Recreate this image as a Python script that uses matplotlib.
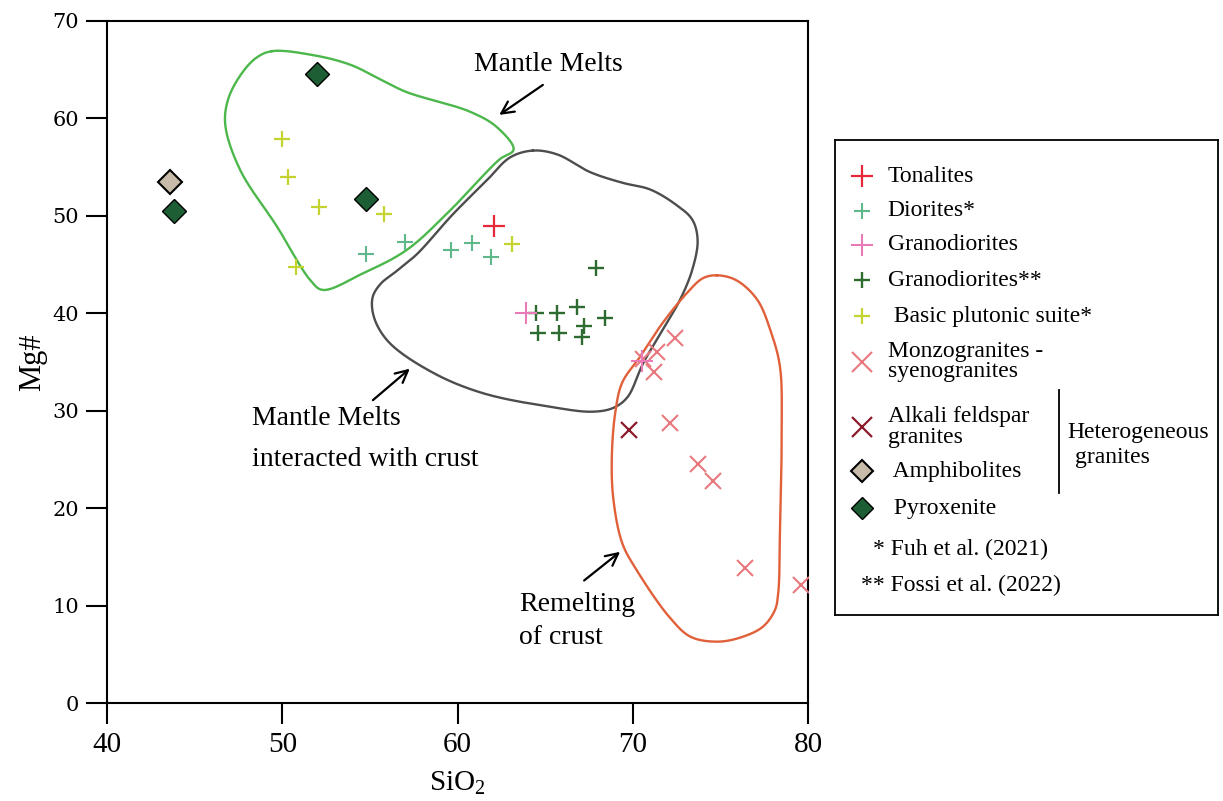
import numpy as np
import matplotlib
matplotlib.use('Agg')
import matplotlib.pyplot as plt

plt.rcParams['font.family'] = ['Liberation Serif', 'DejaVu Serif']
plt.rcParams['mathtext.fontset'] = 'custom'
plt.rcParams['mathtext.rm'] = 'Liberation Serif'
plt.rcParams['mathtext.it'] = 'Liberation Serif:italic'

# sample data (SiO2 wt%, Mg#)
tonalite_sio2 = [62.1]
tonalite_mg = [49.0]
diorite_sio2 = [54.8, 57.0, 59.6, 60.8, 61.9]
diorite_mg = [46.1, 47.3, 46.5, 47.2, 45.8]
grano_sio2 = [63.9, 70.5]
grano_mg = [40.0, 35.1]
grano2_sio2 = [67.9, 64.5, 65.7, 66.8, 68.4, 67.2, 64.6, 65.8, 67.1]
grano2_mg = [44.6, 40.0, 40.0, 40.6, 39.5, 38.7, 38.0, 38.0, 37.6]
basic_sio2 = [50.0, 50.3, 52.1, 55.8, 50.8, 63.1]
basic_mg = [57.9, 54.0, 50.9, 50.2, 44.8, 47.1]
monzo_sio2 = [72.4, 71.4, 71.2, 70.6, 72.1, 73.7, 74.6, 76.4, 79.6]
monzo_mg = [37.5, 36.0, 34.0, 35.3, 28.7, 24.5, 22.8, 13.9, 12.1]
alkali_sio2 = [69.8]
alkali_mg = [28.0]
amphib_sio2 = [43.6]
amphib_mg = [53.5]
pyrox_sio2 = [52.0, 54.8, 43.8]
pyrox_mg = [64.6, 51.7, 50.5]

# field outlines (SiO2, Mg#)
mantle_x = [49.4, 51.75, 53.9, 55.6, 57.1, 60.7, 62.25, 63.2, 62.4, 59.6, 57.1,
            54.6, 52.3, 51.6, 49.7, 47.6, 46.75, 46.9, 47.6, 48.5]
mantle_y = [66.9, 66.5, 65.5, 64.0, 62.7, 60.7, 59.1, 56.8, 55.8, 50.6, 46.5,
            44.1, 42.4, 43.4, 48.9, 54.7, 59.3, 61.9, 64.4, 66.2]
inter_x = [64.3, 65.7, 67.55, 69.4, 71.0, 72.5, 73.4, 73.7, 73.4, 72.7, 71.7,
           70.6, 69.7, 68.9, 67.7, 65.3, 61.45, 58.6, 56.1, 55.25, 55.15, 55.6,
           56.5, 57.7, 59.7, 61.7, 63.0]
inter_y = [56.7, 56.3, 54.5, 53.4, 52.7, 51.1, 49.6, 47.5, 44.5, 41.4, 38.3,
           34.9, 31.4, 30.3, 29.9, 30.4, 31.8, 33.9, 37.0, 39.5, 41.6, 43.0,
           44.3, 46.1, 50.1, 53.7, 56.0]
crust_x = [74.8, 75.9, 77.1, 77.9, 78.4, 78.5, 78.4, 78.3, 78.1, 77.4, 76.1, 74.8,
           73.3, 72.1, 70.2, 69.4, 68.9, 68.8, 69.0, 69.4, 70.4, 71.7, 73.1, 74.0]
crust_y = [43.9, 43.4, 41.4, 38.0, 34.5, 28.3, 18.1, 11.3, 9.5, 7.8, 6.7, 6.3,
           6.8, 8.8, 13.7, 16.4, 20.8, 24.9, 29.8, 32.9, 35.5, 39.0, 42.1, 43.6]


def smooth_closed(xs, ys, n=24, alpha=0.5):
    # closed centripetal Catmull-Rom curve, distances taken in screen-like units
    scale = np.array([17.5, 9.74])
    p = np.column_stack([xs, ys]) * scale
    k = len(p)
    parts = []
    for i in range(k):
        P0, P1, P2, P3 = p[i - 1], p[i], p[(i + 1) % k], p[(i + 2) % k]
        t0 = 0.0
        t1 = t0 + np.linalg.norm(P1 - P0) ** alpha
        t2 = t1 + np.linalg.norm(P2 - P1) ** alpha
        t3 = t2 + np.linalg.norm(P3 - P2) ** alpha
        t = np.linspace(t1, t2, n, endpoint=False)[:, None]
        A1 = (t1 - t) / (t1 - t0) * P0 + (t - t0) / (t1 - t0) * P1
        A2 = (t2 - t) / (t2 - t1) * P1 + (t - t1) / (t2 - t1) * P2
        A3 = (t3 - t) / (t3 - t2) * P2 + (t - t2) / (t3 - t2) * P3
        B1 = (t2 - t) / (t2 - t0) * A1 + (t - t0) / (t2 - t0) * A2
        B2 = (t3 - t) / (t3 - t1) * A2 + (t - t1) / (t3 - t1) * A3
        parts.append((t2 - t) / (t2 - t1) * B1 + (t - t1) / (t2 - t1) * B2)
    parts.append(p[:1])
    out = np.vstack(parts) / scale
    return out[:, 0], out[:, 1]


fig = plt.figure(figsize=(12.23, 8.01), dpi=100)
ax = fig.add_axes([0.0875, 0.1223, 0.5732, 0.8515])

for xs, ys, c in [(mantle_x, mantle_y, '#4cb84c'),
                  (inter_x, inter_y, '#4d4d4d'),
                  (crust_x, crust_y, '#e0603a')]:
    sx, sy = smooth_closed(xs, ys)
    ax.plot(sx, sy, color=c, lw=1.7, zorder=2)

styles = {
    'ton': dict(marker='+', color='#e8283a', ms=16.5, mew=1.6, ls='none'),
    'dio': dict(marker='+', color='#5fb88a', ms=12, mew=1.5, ls='none'),
    'gra': dict(marker='+', color='#e87ab8', ms=16.5, mew=1.5, ls='none'),
    'gra2': dict(marker='+', color='#2e6b30', ms=11.5, mew=1.7, ls='none'),
    'bas': dict(marker='+', color='#c5d331', ms=12, mew=1.6, ls='none'),
    'mon': dict(marker='x', color='#e8787e', ms=12, mew=1.5, ls='none'),
    'alk': dict(marker='x', color='#8b1a2a', ms=12, mew=1.6, ls='none'),
    'amp': dict(marker='D', mfc='#c9bba9', mec='black', ms=12.5, mew=1.5, ls='none'),
    'pyr': dict(marker='D', mfc='#1d5e35', mec='black', ms=12.5, mew=1.0, ls='none'),
}

ax.plot(monzo_sio2, monzo_mg, zorder=3, **styles['mon'])
ax.plot(alkali_sio2, alkali_mg, zorder=3, **styles['alk'])
ax.plot(diorite_sio2, diorite_mg, zorder=3, **styles['dio'])
ax.plot(basic_sio2, basic_mg, zorder=3, **styles['bas'])
ax.plot(grano2_sio2, grano2_mg, zorder=3, **styles['gra2'])
ax.plot(grano_sio2, grano_mg, zorder=4, **styles['gra'])
ax.plot(tonalite_sio2, tonalite_mg, zorder=4, **styles['ton'])
ax.plot(amphib_sio2, amphib_mg, zorder=4, **styles['amp'])
ax.plot(pyrox_sio2, pyrox_mg, zorder=4, **styles['pyr'])

# field labels
arrow = dict(arrowstyle='->', color='black', lw=1.6, mutation_scale=22)
ax.annotate('', xy=(62.25, 60.2), xytext=(65.0, 63.6), arrowprops=arrow)
ax.text(65.2, 65.5, 'Mantle Melts', fontsize=20, ha='center', va='center')
ax.annotate('', xy=(57.4, 34.5), xytext=(55.05, 30.9), arrowprops=arrow)
ax.text(48.3, 27.1, 'Mantle Melts\ninteracted with crust', fontsize=20,
        ha='left', va='center', linespacing=1.8)
ax.annotate('', xy=(69.4, 15.7), xytext=(67.1, 12.4), arrowprops=arrow)
ax.text(63.5, 8.4, 'Remelting\nof crust', fontsize=20, ha='left', va='center',
        linespacing=1.42)

ax.set_xlim(40, 80)
ax.set_ylim(0, 70)
ax.set_xticks(range(40, 81, 10))
ax.set_yticks(range(0, 71, 10))
ax.tick_params(direction='out', length=15, width=1.5)
ax.tick_params(axis='x', labelsize=21, pad=6)
ax.tick_params(axis='y', labelsize=15, pad=5)
for lab in ax.get_yticklabels():
    lab.set_family('DejaVu Serif')
for sp in ax.spines.values():
    sp.set_linewidth(1.5)
ax.set_xlabel('SiO$_2$', fontsize=21, labelpad=8)
ax.set_ylabel('Mg#', fontsize=22, labelpad=4)

# legend panel
lax = fig.add_axes([0.6827, 0.2322, 0.3133, 0.593])
lax.set_xlim(0, 1)
lax.set_ylim(0, 1)
lax.set_xticks([])
lax.set_yticks([])
for sp in lax.spines.values():
    sp.set_linewidth(1.3)

entries = [
    ('ton', 'Tonalites', 0.924),
    ('dio', 'Diorites*', 0.851),
    ('gra', 'Granodiorites', 0.779),
    ('gra2', 'Granodiorites**', 0.705),
    ('bas', ' Basic plutonic suite*', 0.629),
    ('mon', 'Monzogranites -\nsyenogranites', 0.533),
    ('alk', 'Alkali feldspar\ngranites', 0.396),
    ('amp', ' Amphibolites', 0.303),
    ('pyr', ' Pyroxenite', 0.225),
]
for key, label, y in entries:
    st = dict(styles[key])
    if key in ('mon', 'alk'):
        st['ms'] = 14
    if key in ('amp', 'pyr'):
        st['ms'] = 11
    lax.plot([0.07], [y], **st)
    lax.text(0.138, y, label, fontsize=17, va='center', ha='left',
             linespacing=0.95)

lax.text(0.099, 0.137, '* Fuh et al. (2021)', fontsize=17, va='center')
lax.text(0.068, 0.063, '** Fossi et al. (2022)', fontsize=17, va='center')
lax.plot([0.585, 0.585], [0.257, 0.474], color='black', lw=1.3)
lax.text(0.606, 0.385, 'Heterogeneous', fontsize=17, va='center')
lax.text(0.626, 0.331, 'granites', fontsize=17, va='center')

fig.savefig('out.png', dpi=100)
